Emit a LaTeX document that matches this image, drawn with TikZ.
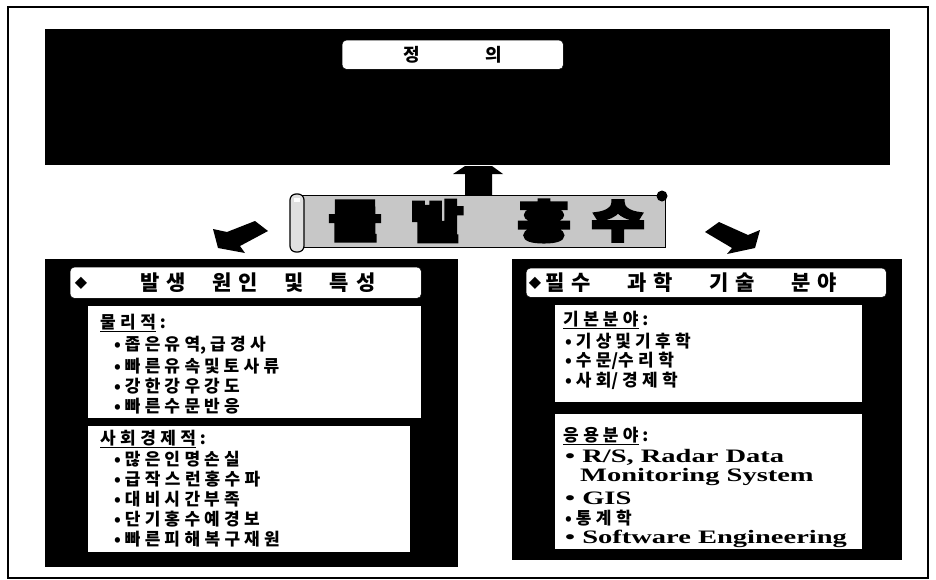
\documentclass[tikz,border=0pt]{standalone}
\usepackage{fontspec}
\setmainfont{Liberation Serif}
\newfontfamily\kr[WordSpace=2.8]{Noto Sans CJK KR}
\newfontfamily\krh{Noto Sans CJK KR}
\newfontfamily\ban[FakeBold=8,FakeStretch=1.3]{Noto Sans CJK KR}
\newfontfamily\lat[FakeStretch=1.5]{Liberation Serif}
\newfontfamily\dv{DejaVu Sans}
% letter spacing between Hangul syllables
\XeTeXinterchartokenstate=1
\count255="AC00
\loop
  \XeTeXcharclass\count255=7
  \ifnum\count255<"D7A3
  \advance\count255 by 1
\repeat
\def\hgap{0.3em}
\XeTeXinterchartoks 7 7 = {\kern\hgap\relax}
\begin{document}
\begin{tikzpicture}[x=1pt,y=-1pt,
  blackbox/.style={fill=black,draw=none,inner sep=0pt,anchor=north west},
  whitebox/.style={fill=white,draw=none,inner sep=0pt,anchor=north west},
  labelbox/.style={fill=white,draw=black,rounded corners=4pt,inner sep=0pt,anchor=north west},
  body/.style={anchor=west,inner sep=0pt,font=\kr\bfseries\fontsize{17}{19}\selectfont\def\hgap{0.26em}},
  latb/.style={anchor=west,inner sep=0pt,font=\lat\bfseries\fontsize{19}{21}\selectfont},
  headtext/.style={inner sep=0pt,anchor=west,font=\krh\bfseries\fontsize{21}{23}\selectfont\def\hgap{0.35em}},
  banchar/.style={inner sep=0pt,font=\ban\bfseries\fontsize{44}{48}\selectfont}]
\useasboundingbox (0,0) rectangle (936,579);
\draw[line width=1.2pt] (8,7) rectangle (928,578);

% definition box
\node[blackbox,minimum width=845pt,minimum height=136pt] (defbox) at (45,29) {};
\node[labelbox,minimum width=221pt,minimum height=29pt] (deflabel) at (342,40) {};
\node[inner sep=0pt,font=\krh\bfseries\fontsize{18}{20}\selectfont] (deftext) at (deflabel.center) {정\hspace{3.6em}의};

% up arrow
\fill (465,198) -- (465,174) -- (453,174) -- (465,166) -- (492,166) -- (503,174) -- (492,174) -- (492,198) -- cycle;

% banner
\node[fill=black!22,draw=black,line width=1pt,inner sep=0pt,anchor=north west,minimum width=364pt,minimum height=52pt] (banner) at (301,195) {};
\draw[fill=black!12,line width=1.2pt,rounded corners=6pt] (290,194) rectangle (304,252);
\fill[white] (294,198) rectangle (300,202);
\fill (662,196) circle (5.5pt);
\node[banchar] (b1) at (355,221) {돌};
\node[banchar] (b2) at (437,221) {발};
\node[banchar] (b3) at (544,221) {홍};
\node[banchar] (b4) at (618,221) {수};

% side arrows
\fill (255,221) -- (268,231) -- (240,246) -- (245,253) -- (218,248) -- (213,229) -- (227,232) -- cycle;
\fill (719,222) -- (748,235) -- (760,230) -- (755,248) -- (727,254) -- (732,248) -- (705,232) -- cycle;

% left box
\node[blackbox,minimum width=413pt,minimum height=308pt] (leftbox) at (45,259) {};
\node[labelbox,minimum width=351pt,minimum height=31pt] (lhead) at (70,267) {};
\node[inner sep=0pt,font=\dv\fontsize{16}{18}\selectfont] (ldia) at (81,283) {◆};
\node[headtext] (lheadtext) at (140,283) {발생\hspace{26pt}원인\hspace{26pt}및\hspace{26pt}특성};
\node[whitebox,minimum width=333pt,minimum height=112pt] (lb1) at (88,306) {};
\node[body] (l1t) at (100,323) {\underline{물리적} :};
\node[body] (l1a) at (114,345) {• 좁은 유역, 급경사};
\node[body] (l1b) at (114,366) {• 빠른 유속 및 토사류};
\node[body] (l1c) at (114,386) {• 강한 강우 강도};
\node[body] (l1d) at (114,406) {• 빠른 수문 반응};
\node[whitebox,minimum width=322pt,minimum height=126pt] (lb2) at (88,426) {};
\node[body] (l2t) at (100,439) {\underline{사회경제적} :};
\node[body] (l2a) at (114,459) {• 많은 인명 손실};
\node[body] (l2b) at (114,479) {• 급작스런 홍수파};
\node[body] (l2c) at (114,499) {• 대비 시간 부족};
\node[body] (l2d) at (114,519) {• 단기 홍수 예경보};
\node[body] (l2e) at (114,539) {• 빠른 피해복구 재원};

% right box
\node[blackbox,minimum width=390pt,minimum height=301pt] (rightbox) at (512,259) {};
\node[labelbox,minimum width=360pt,minimum height=29pt] (rhead) at (526,268) {};
\node[inner sep=0pt,font=\dv\fontsize{16}{18}\selectfont] (rdia) at (535,283) {◆};
\node[headtext] (rheadtext) at (545,283) {필수\hspace{36pt}과학\hspace{36pt}기술\hspace{36pt}분야};
\node[whitebox,minimum width=307pt,minimum height=97pt] (rb1) at (555,305) {};
\node[body] (r1t) at (563,320) {\underline{기본 분야} :};
\node[body] (r1a) at (565,341) {• 기상 및 기후학};
\node[body] (r1b) at (565,361) {• 수문/수리학};
\node[body] (r1c) at (565,381) {• 사회/ 경제학};
\node[whitebox,minimum width=307pt,minimum height=135pt] (rb2) at (555,414) {};
\node[body] (r2t) at (563,436) {\underline{응용 분야} :};
\node[latb] (r2a) at (565,457) {• R/S, Radar Data};
\node[latb] (r2b) at (580,477) {Monitoring System};
\node[latb] (r2c) at (565,498) {• GIS};
\node[body] (r2d) at (565,518) {• 통계학};
\node[latb] (r2e) at (565,539) {• Software Engineering};
\end{tikzpicture}
\end{document}
